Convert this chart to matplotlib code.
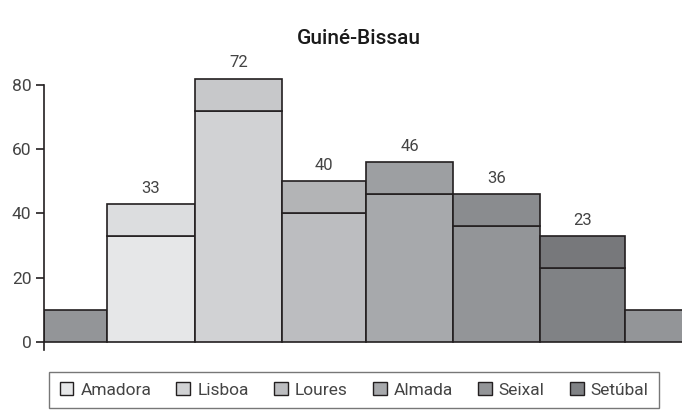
import matplotlib.pyplot as plt
from matplotlib.patches import Patch

# data
cities = ['Amadora', 'Lisboa', 'Loures', 'Almada', 'Seixal', 'Setúbal']
values = [33, 72, 40, 46, 36, 23]
cap = 10
widths = [88, 87, 84, 87, 87, 85]
edge_width = 63
edge_height = 10

low_colors = ['#e6e7e8', '#d1d2d4', '#bcbdc0', '#a7a9ac', '#939598', '#808285']
cap_colors = ['#dcdddf', '#c7c8ca', '#b3b4b6', '#9d9fa2', '#8a8c8f', '#77787b']
edge_color = '#939598'
line_color = '#231f20'
text_color = '#444444'

plt.rcParams['font.family'] = ['Roboto', 'DejaVu Sans']

fig = plt.figure(figsize=(6.82, 4.15), dpi=100)
# y=0 sits at pixel 342, y=80 at pixel 85
ax = fig.add_axes([44 / 682, 65 / 415, 1 - 44 / 682, 290.7 / 415])

# left padding bar
x = 0
ax.bar(x, edge_height, width=edge_width, align='edge', color=edge_color,
       edgecolor=line_color, linewidth=1.2)
x += edge_width

for city, v, w, lc, cc in zip(cities, values, widths, low_colors, cap_colors):
    ax.bar(x, v, width=w, align='edge', color=lc, edgecolor=line_color, linewidth=1.2)
    ax.bar(x, cap, bottom=v, width=w, align='edge', color=cc, edgecolor=line_color, linewidth=1.2)
    ax.annotate(str(v), (x + w / 2, v + cap), xytext=(0, 6), textcoords='offset points',
                ha='center', va='bottom', fontsize=12, color=text_color)
    x += w

# right padding bar
ax.bar(x, edge_height, width=edge_width, align='edge', color=edge_color,
       edgecolor=line_color, linewidth=1.2)

ax.set_xlim(0, x + 57)
ax.set_ylim(-2.5, 88)
ax.set_yticks([0, 20, 40, 60, 80])
ax.set_xticks([])
for s in ['top', 'right', 'bottom']:
    ax.spines[s].set_visible(False)
ax.spines['left'].set_color(line_color)
ax.spines['left'].set_linewidth(1.2)
ax.spines['left'].set_bounds(-2.5, 80)
ax.tick_params(axis='y', length=6, width=1.2, color=line_color, labelsize=12.5,
               labelcolor=text_color, pad=3)

fig.text(359 / 682, 1 - 38 / 415, 'Guiné-Bissau', ha='center', va='center',
         fontsize=15, fontweight='medium', color='#1a1a1a')

handles = [Patch(facecolor=c, edgecolor=line_color, linewidth=1) for c in low_colors]
leg = fig.legend(handles, cities, loc='center', bbox_to_anchor=(354 / 682, 1 - 390 / 415),
                 ncol=6, frameon=True, fancybox=False, edgecolor='#555555',
                 handlelength=0.8, handleheight=0.8, handletextpad=0.4, columnspacing=1.45,
                 borderpad=0.6, prop={'size': 12.5})
leg.get_frame().set_linewidth(1.0)
for t in leg.get_texts():
    t.set_color(text_color)

fig.savefig('out.png', dpi=100)
